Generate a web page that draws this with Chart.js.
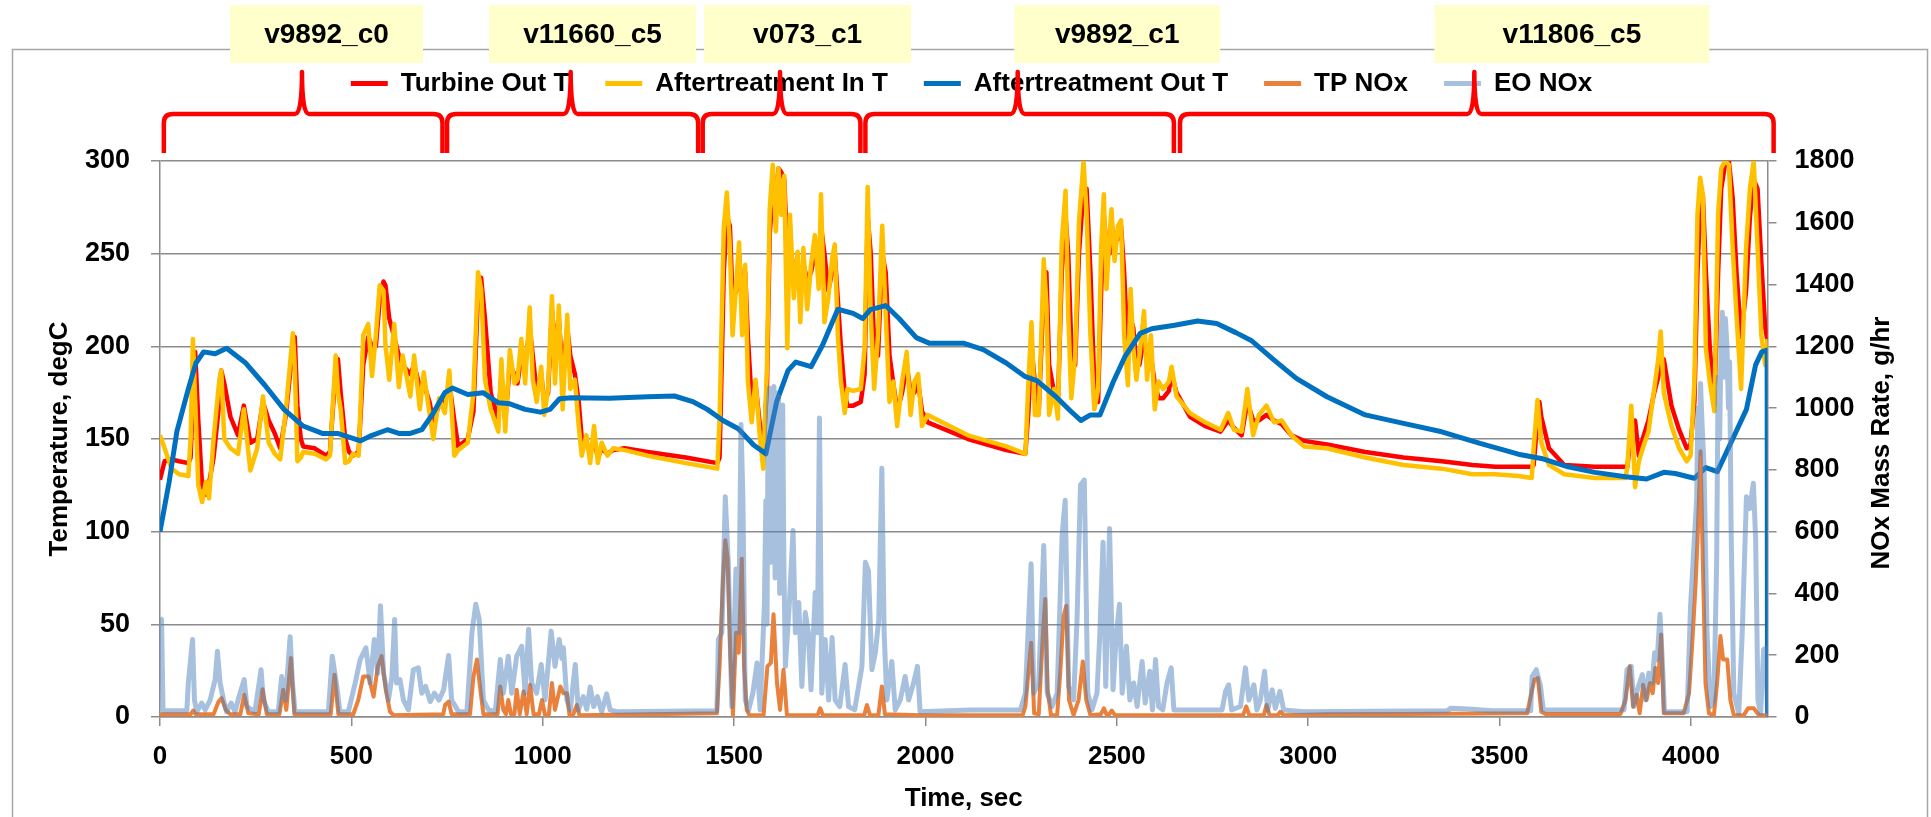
<!DOCTYPE html>
<html>
<head>
<meta charset="utf-8">
<script src="https://cdn.jsdelivr.net/npm/chart.js@4.4.1/dist/chart.umd.min.js"></script>
<style>
    html, body { margin: 0; padding: 0; background: #fff; }
    #chartBox { position: relative; width: 1931px; height: 817px; }
</style>
</head>
<body>
<div id="chartBox"><canvas id="noxChart"></canvas></div>
<script>
// temperatures (degC)
const tempTime = [0, 12, 30, 50, 74, 80, 86, 92, 100, 110, 120, 128, 140, 155, 160, 168, 184, 204, 219, 236, 254, 269, 284, 300, 314, 329, 347, 352, 359, 368, 374, 404, 434, 444, 459, 465, 472, 484, 494, 504, 519, 531, 544, 554, 564, 574, 584, 589, 599, 612, 624, 634, 654, 664, 679, 689, 704, 714, 729, 744, 756, 769, 779, 804, 819, 831, 839, 849, 864, 884, 892, 902, 914, 926, 934, 944, 954, 966, 974, 984, 996, 1004, 1014, 1024, 1032, 1042, 1052, 1064, 1072, 1084, 1094, 1102, 1114, 1124, 1134, 1144, 1154, 1169, 1184, 1214, 1274, 1374, 1456, 1462, 1466, 1473, 1481, 1489, 1496, 1506, 1513, 1521, 1529, 1536, 1546, 1556, 1566, 1576, 1586, 1593, 1601, 1609, 1616, 1623, 1631, 1639, 1646, 1656, 1666, 1673, 1681, 1691, 1701, 1711, 1721, 1727, 1736, 1746, 1756, 1763, 1771, 1779, 1789, 1796, 1811, 1831, 1841, 1849, 1857, 1866, 1876, 1887, 1896, 1906, 1916, 1926, 1939, 1951, 1961, 1971, 1981, 1991, 2006, 2111, 2211, 2261, 2269, 2277, 2286, 2296, 2309, 2316, 2323, 2336, 2346, 2356, 2366, 2373, 2381, 2391, 2401, 2413, 2421, 2431, 2441, 2451, 2459, 2466, 2473, 2481, 2486, 2494, 2503, 2511, 2519, 2529, 2536, 2543, 2551, 2559, 2571, 2579, 2589, 2599, 2609, 2621, 2636, 2643, 2656, 2691, 2731, 2771, 2791, 2806, 2826, 2841, 2856, 2871, 2891, 2911, 2931, 2956, 2989, 3049, 3149, 3249, 3349, 3429, 3489, 3549, 3584, 3589, 3599, 3604, 3609, 3629, 3669, 3749, 3829, 3834, 3844, 3854, 3864, 3874, 3889, 3904, 3914, 3921, 3929, 3949, 3969, 3989, 3999, 4009, 4017, 4024, 4031, 4039, 4049, 4061, 4071, 4079, 4089, 4099, 4109, 4119, 4131, 4144, 4154, 4164, 4174, 4184, 4194, 4200]
const turbineOutT = [128, 138, 139, 138, 137, 140, 175, 197, 160, 125, 120, 126, 140, 170, 187, 180, 162, 152, 168, 148, 150, 170, 160, 153, 145, 163, 200, 205, 168, 150, 146, 145, 141, 143, 188, 193, 175, 150, 143, 141, 143, 190, 205, 200, 200, 225, 235, 233, 215, 205, 195, 190, 185, 190, 178, 180, 170, 160, 168, 170, 180, 160, 146, 150, 165, 230, 237, 215, 175, 160, 185, 160, 190, 185, 180, 195, 190, 210, 195, 175, 185, 170, 175, 220, 200, 215, 185, 210, 195, 185, 170, 150, 148, 142, 150, 140, 145, 142, 144, 145, 143, 140, 137, 140, 175, 240, 270, 265, 225, 230, 250, 225, 240, 205, 170, 180, 160, 140, 180, 260, 285, 280, 296, 294, 290, 250, 255, 240, 245, 230, 245, 235, 240, 250, 245, 265, 250, 230, 240, 250, 225, 200, 175, 168, 168, 170, 185, 270, 250, 200, 195, 250, 240, 195, 180, 165, 175, 190, 175, 175, 180, 165, 159, 150, 144, 142, 165, 200, 180, 165, 230, 240, 190, 175, 168, 240, 270, 250, 200, 190, 250, 285, 285, 240, 180, 170, 230, 270, 255, 250, 265, 260, 258, 265, 240, 195, 215, 210, 190, 190, 205, 195, 195, 180, 172, 172, 176, 185, 175, 162, 157, 154, 160, 156, 152, 170, 160, 160, 163, 160, 158, 152, 149, 147, 143, 140, 138, 136, 135, 135, 135, 136, 160, 170, 162, 145, 136, 135, 135, 135, 155, 160, 141, 150, 160, 175, 183, 190, 193, 168, 155, 145, 147, 170, 240, 275, 282, 240, 200, 168, 240, 285, 298, 300, 280, 240, 205, 230, 270, 290, 285, 245, 210, 203]
const aftertreatInT = [152, 145, 134, 131, 130, 150, 204, 170, 125, 116, 127, 118, 150, 182, 187, 150, 145, 142, 166, 133, 145, 173, 148, 142, 139, 166, 207, 190, 138, 140, 143, 142, 139, 141, 195, 175, 166, 137, 138, 142, 141, 206, 212, 184, 206, 233, 230, 201, 182, 212, 178, 195, 173, 195, 166, 186, 164, 150, 172, 164, 187, 141, 144, 148, 175, 240, 231, 182, 166, 154, 193, 154, 198, 180, 182, 204, 180, 221, 182, 170, 189, 163, 177, 227, 180, 222, 166, 217, 177, 182, 157, 141, 152, 137, 157, 137, 148, 141, 145, 144, 141, 137, 134, 160, 199, 264, 283, 253, 206, 235, 256, 206, 244, 181, 159, 182, 154, 134, 190, 274, 298, 262, 296, 271, 292, 199, 271, 226, 251, 213, 253, 220, 244, 260, 231, 282, 213, 226, 247, 255, 206, 181, 164, 177, 176, 177, 199, 286, 217, 177, 206, 265, 217, 170, 181, 157, 181, 197, 163, 181, 185, 157, 163, 152, 146, 142, 181, 213, 163, 163, 247, 222, 163, 177, 161, 256, 284, 217, 172, 195, 267, 300, 271, 206, 166, 177, 253, 282, 231, 260, 274, 246, 265, 268, 206, 179, 231, 199, 182, 195, 219, 182, 206, 166, 181, 177, 181, 189, 173, 164, 159, 155, 164, 155, 154, 177, 152, 163, 168, 159, 160, 152, 146, 145, 140, 136, 134, 131, 131, 130, 129, 145, 171, 160, 148, 136, 131, 129, 129, 135, 168, 124, 138, 145, 154, 177, 192, 208, 175, 157, 145, 138, 141, 181, 271, 291, 282, 199, 181, 165, 271, 296, 300, 298, 253, 217, 177, 253, 285, 300, 253, 206, 190, 204]

const outTime = [0, 24, 44, 74, 94, 114, 144, 174, 224, 274, 324, 374, 424, 464, 494, 524, 554, 594, 624, 654, 684, 714, 744, 764, 804, 844, 884, 914, 954, 994, 1019, 1044, 1074, 1174, 1274, 1344, 1394, 1430, 1471, 1511, 1551, 1583, 1611, 1641, 1661, 1701, 1731, 1771, 1811, 1836, 1856, 1896, 1931, 1976, 2011, 2101, 2151, 2211, 2261, 2291, 2341, 2381, 2406, 2431, 2456, 2491, 2521, 2561, 2591, 2651, 2711, 2761, 2811, 2851, 2911, 2969, 3049, 3149, 3249, 3349, 3449, 3549, 3609, 3679, 3749, 3829, 3884, 3929, 3959, 4009, 4039, 4069, 4109, 4145, 4169, 4185, 4199, 4200]
const aftertreatOutT = [100, 127, 154, 177, 191, 197, 196, 199, 191, 179, 166, 157, 153, 153, 151, 149, 152, 155, 153, 153, 155, 164, 175, 177.5, 174, 175, 169.5, 169, 166, 164.5, 166, 171.7, 172.3, 172, 172.8, 173.2, 170, 166, 160, 155.5, 146.8, 142, 170, 187, 191.5, 189, 200.6, 220, 217.8, 215, 219.8, 222, 215, 204.7, 201.6, 201.6, 198.2, 191, 183.6, 181.5, 172.8, 164.7, 160, 163, 163, 181, 194.4, 207, 209.5, 211.4, 213.7, 212.3, 207.4, 203.2, 192.6, 182.7, 172.8, 163, 158.4, 153.9, 147.6, 141.8, 139.5, 135, 132, 129.6, 128.4, 132, 131.4, 128.8, 134.6, 132.4, 150, 166, 190, 197, 198, 0]

// NOx mass rate (g/hr)
const tpTime = [0, 80, 87, 93, 140, 153, 161, 172, 183, 210, 220, 231, 258, 268, 279, 312, 322, 330, 342, 351, 446, 456, 466, 505, 518, 531, 545, 558, 569, 579, 590, 601, 610, 740, 745, 754, 762, 810, 819, 828, 836, 845, 882, 889, 897, 904, 910, 917, 926, 932, 940, 950, 958, 967, 976, 990, 998, 1006, 1016, 1024, 1032, 1046, 1054, 1063, 1070, 1080, 1089, 1096, 1455, 1462, 1471, 1477, 1483, 1490, 1497, 1505, 1512, 1520, 1526, 1533, 1540, 1577, 1587, 1596, 1603, 1612, 1620, 1629, 1638, 1718, 1725, 1732, 1840, 1847, 1855, 1877, 1886, 1894, 1986, 2254, 2261, 2276, 2284, 2296, 2307, 2313, 2319, 2328, 2344, 2352, 2361, 2368, 2375, 2387, 2400, 2411, 2420, 2431, 2458, 2466, 2474, 2480, 2487, 2495, 2830, 2838, 2846, 2884, 2891, 2899, 2920, 2927, 2936, 3049, 3250, 3572, 3583, 3591, 3600, 3609, 3620, 3816, 3829, 3840, 3849, 3858, 3866, 3875, 3884, 3893, 3900, 3907, 3914, 3922, 3929, 3981, 3995, 4003, 4012, 4018, 4025, 4032, 4038, 4047, 4060, 4069, 4077, 4084, 4095, 4103, 4112, 4138, 4149, 4164, 4178, 4200]
const tpNox = [9, 9, 21, 9, 9, 50, 61, 23, 9, 9, 72, 12, 9, 90, 9, 9, 88, 23, 191, 9, 9, 137, 9, 9, 55, 131, 131, 66, 164, 197, 88, 17, 6, 9, 39, 50, 9, 9, 131, 186, 99, 9, 9, 99, 23, 9, 55, 9, 9, 88, 9, 83, 9, 104, 9, 9, 55, 6, 9, 110, 23, 99, 77, 77, 6, 9, 39, 6, 12, 164, 447, 572, 512, 208, 6, 273, 208, 512, 164, 23, 6, 6, 164, 175, 333, 110, 23, 153, 6, 6, 28, 6, 6, 39, 6, 6, 99, 9, 6, 6, 34, 240, 12, 9, 273, 382, 88, 6, 6, 142, 327, 360, 55, 6, 55, 180, 55, 6, 9, 28, 6, 9, 21, 6, 6, 34, 6, 6, 39, 6, 6, 17, 6, 9, 10, 12, 77, 121, 126, 17, 10, 10, 55, 164, 34, 72, 12, 104, 55, 110, 77, 159, 110, 267, 12, 12, 77, 229, 425, 599, 860, 447, 110, 12, 6, 121, 262, 186, 186, 55, 6, 6, 28, 28, 6, 6]
const eoTime = [0, 4, 8, 70, 74, 85, 90, 96, 109, 118, 131, 144, 150, 157, 166, 174, 186, 196, 209, 220, 227, 248, 264, 270, 283, 309, 318, 328, 340, 346, 353, 440, 450, 462, 470, 492, 510, 523, 538, 549, 560, 569, 576, 584, 597, 606, 613, 618, 627, 636, 649, 662, 675, 684, 694, 706, 717, 729, 741, 754, 762, 780, 802, 815, 825, 834, 845, 858, 876, 889, 897, 910, 919, 932, 945, 954, 963, 971, 984, 996, 1006, 1022, 1032, 1043, 1050, 1054, 1063, 1072, 1085, 1093, 1106, 1115, 1124, 1133, 1143, 1154, 1167, 1176, 1194, 1455, 1459, 1468, 1477, 1485, 1494, 1505, 1512, 1518, 1523, 1529, 1538, 1549, 1560, 1568, 1579, 1583, 1586, 1589, 1592, 1595, 1598, 1601, 1604, 1607, 1610, 1613, 1616, 1619, 1622, 1625, 1627, 1630, 1634, 1645, 1654, 1660, 1669, 1677, 1686, 1694, 1701, 1712, 1718, 1723, 1729, 1738, 1747, 1756, 1764, 1776, 1790, 1799, 1815, 1834, 1843, 1851, 1860, 1869, 1878, 1886, 1892, 1899, 1912, 1921, 1934, 1947, 1956, 1969, 1979, 1986, 2117, 2248, 2261, 2276, 2283, 2296, 2309, 2318, 2331, 2344, 2357, 2365, 2374, 2387, 2396, 2405, 2415, 2424, 2435, 2448, 2455, 2464, 2471, 2481, 2490, 2499, 2507, 2514, 2525, 2534, 2544, 2553, 2566, 2574, 2586, 2593, 2601, 2609, 2620, 2631, 2642, 2649, 2775, 2784, 2792, 2800, 2823, 2836, 2845, 2858, 2866, 2875, 2886, 2894, 2906, 2914, 2926, 2936, 2988, 3363, 3372, 3420, 3480, 3581, 3585, 3596, 3607, 3614, 3825, 3833, 3844, 3851, 3860, 3873, 3881, 3890, 3899, 3905, 3912, 3919, 3925, 3931, 3990, 3999, 4008, 4015, 4018, 4021, 4025, 4029, 4034, 4042, 4051, 4060, 4067, 4071, 4075, 4079, 4082, 4086, 4090, 4094, 4098, 4101, 4105, 4112, 4125, 4134, 4145, 4154, 4163, 4169, 4175, 4182, 4190, 4197, 4200]
const eoNox = [320, 316, 20, 20, 110, 251, 55, 17, 45, 23, 55, 121, 213, 110, 55, 17, 45, 17, 77, 121, 34, 17, 153, 55, 17, 17, 131, 55, 260, 110, 17, 17, 197, 99, 17, 17, 110, 186, 224, 110, 251, 142, 360, 142, 55, 131, 316, 110, 121, 55, 23, 153, 159, 77, 99, 50, 77, 55, 88, 199, 55, 17, 17, 273, 365, 316, 55, 23, 17, 186, 77, 197, 77, 197, 229, 77, 284, 110, 77, 170, 55, 278, 164, 251, 190, 224, 55, 23, 170, 23, 66, 25, 97, 34, 66, 17, 75, 23, 17, 20, 251, 273, 713, 490, 34, 479, 273, 947, 708, 55, 23, 77, 175, 23, 360, 700, 300, 1000, 1065, 500, 980, 600, 1070, 450, 1050, 700, 1040, 400, 950, 600, 1010, 500, 164, 382, 604, 273, 371, 99, 338, 273, 88, 403, 273, 968, 77, 251, 55, 257, 55, 34, 170, 34, 23, 164, 501, 474, 153, 208, 316, 805, 273, 55, 180, 23, 55, 131, 55, 110, 164, 17, 23, 23, 77, 496, 77, 110, 555, 77, 34, 77, 588, 702, 99, 55, 316, 751, 767, 77, 23, 77, 251, 566, 99, 610, 88, 273, 365, 77, 229, 55, 110, 34, 180, 45, 148, 23, 186, 34, 23, 110, 159, 23, 23, 83, 104, 23, 34, 159, 55, 104, 23, 55, 148, 23, 88, 28, 83, 23, 17, 20, 28, 26, 20, 20, 131, 153, 99, 23, 23, 153, 164, 34, 88, 137, 55, 142, 110, 208, 186, 333, 186, 17, 17, 360, 555, 708, 1000, 850, 1080, 950, 816, 273, 34, 55, 490, 1100, 900, 1250, 1310, 1100, 1290, 1200, 1000, 1150, 599, 77, 12, 273, 713, 675, 757, 577, 55, 12, 218, 224, 0]

const timeTicks = [0, 500, 1000, 1500, 2000, 2500, 3000, 3500, 4000]

// cycle segments above the plot (seconds)
const cycleNames = ['v9892_c0', 'v11660_c5', 'v073_c1', 'v9892_c1', 'v11806_c5']
const cycleLabelAt = [435, 1130, 1692, 2501, 3689]
const braceStart = [10, 750, 1418, 1843, 2665]
const braceTip = [371, 1073, 1620, 2241, 3434]
const braceEnd = [738, 1406, 1830, 2649, 4216]

const fontFamily = "'Liberation Sans', Arial, sans-serif"
const gridGray = '#8c8c8c'
const labelBoxWidth = [193, 207, 207, 206, 275]

function toPoints(times, values) {
    return times.map((t, i) => ({ x: t, y: values[i] }))
}

function drawBrace(ctx, x1, xm, x2, top) {
    const yBar = top - 47
    const yEnd = top - 8
    const yTip = top - 89
    const r = 9

    ctx.beginPath()
    ctx.moveTo(x1, yEnd)
    ctx.lineTo(x1, yBar + r)
    ctx.quadraticCurveTo(x1, yBar, x1 + r, yBar)
    ctx.lineTo(xm - 7, yBar)
    ctx.quadraticCurveTo(xm, yBar, xm, yTip)
    ctx.quadraticCurveTo(xm, yBar, xm + 7, yBar)
    ctx.lineTo(x2 - r, yBar)
    ctx.quadraticCurveTo(x2, yBar, x2, yBar + r)
    ctx.lineTo(x2, yEnd)
    ctx.stroke()
}

const cycleMarks = {
    id: 'cycleMarks',
    beforeDraw(chart) {
        const ctx = chart.ctx
        ctx.save()
        ctx.fillStyle = '#fff'
        ctx.fillRect(0, 0, chart.width, chart.height)
        ctx.strokeStyle = '#a6a6a6'
        ctx.lineWidth = 1.5
        ctx.strokeRect(12.5, 49.5, 1915, 820)
        ctx.restore()
    },
    afterDraw(chart) {
        const ctx = chart.ctx
        const x = chart.scales.x
        const top = chart.chartArea.top

        ctx.save()
        ctx.strokeStyle = '#ff0000'
        ctx.lineWidth = 4.5
        ctx.lineJoin = 'round'
        for (let i = 0; i < braceStart.length; i++) {
            drawBrace(ctx, x.getPixelForValue(braceStart[i]), x.getPixelForValue(braceTip[i]), x.getPixelForValue(braceEnd[i]), top)
        }

        ctx.font = 'bold 28px ' + fontFamily
        ctx.textAlign = 'center'
        ctx.textBaseline = 'middle'
        for (let i = 0; i < cycleNames.length; i++) {
            const cx = x.getPixelForValue(cycleLabelAt[i])
            const w = labelBoxWidth[i]
            ctx.fillStyle = '#ffffcc'
            ctx.fillRect(cx - w / 2, 5, w, 58)
            ctx.fillStyle = '#000'
            ctx.fillText(cycleNames[i], cx, 35)
        }

        // right axis title reads bottom to top, like the left one
        const y2 = chart.scales.y2
        ctx.translate(y2.right - 49, (chart.chartArea.top + chart.chartArea.bottom) / 2 + 4)
        ctx.rotate(-Math.PI / 2)
        ctx.font = 'bold 26px ' + fontFamily
        ctx.fillText('NOx Mass Rate, g/hr', 0, 0)
        ctx.restore()
    }
}

const legendGap = {
    id: 'legendGap',
    beforeInit(chart) {
        const fit = chart.legend.fit
        chart.legend.fit = function () {
            fit.bind(chart.legend)()
            this.height += 54.5
        }
    }
}

const lineStyle = { pointRadius: 0, tension: 0, fill: false, borderJoinStyle: 'round' }

const datasets = [
    { label: 'Turbine Out T', data: toPoints(tempTime, turbineOutT), borderColor: '#ff0000', borderWidth: 4.5, yAxisID: 'y', order: 5 },
    { label: 'Aftertreatment In T', data: toPoints(tempTime, aftertreatInT), borderColor: '#ffc000', borderWidth: 4.5, yAxisID: 'y', order: 4 },
    { label: 'Aftertreatment Out T', data: toPoints(outTime, aftertreatOutT), borderColor: '#0070c0', borderWidth: 5, yAxisID: 'y', order: 3 },
    { label: 'TP NOx', data: toPoints(tpTime, tpNox), borderColor: '#e9803c', borderWidth: 4, yAxisID: 'y2', order: 2 },
    { label: 'EO NOx', data: toPoints(eoTime, eoNox), borderColor: 'rgba(79,129,189,0.5)', borderWidth: 5, yAxisID: 'y2', order: 1 }
].map(d => Object.assign({}, lineStyle, d, { backgroundColor: d.borderColor }))

const tickFont = { family: fontFamily, size: 27, weight: 'bold' }
const titleFont = { family: fontFamily, size: 26, weight: 'bold' }

const config = {
    type: 'line',
    data: { datasets: datasets },
    options: {
        responsive: true,
        maintainAspectRatio: false,
        animation: false,
        events: [],
        layout: { padding: { left: 12, right: 0, top: 34.5, bottom: 0 } },
        plugins: {
            tooltip: { enabled: false },
            legend: {
                position: 'top',
                labels: {
                    font: { family: fontFamily, size: 26, weight: 'bold' },
                    color: '#000',
                    boxWidth: 37,
                    boxHeight: 5,
                    padding: 36,
                    sort: (a, b) => a.datasetIndex - b.datasetIndex,
                    generateLabels(chart) {
                        const items = Chart.defaults.plugins.legend.labels.generateLabels(chart)
                        items.forEach(item => {
                            item.fillStyle = item.strokeStyle
                            item.lineWidth = 0
                        })
                        return items
                    }
                }
            }
        },
        scales: {
            x: {
                type: 'linear',
                min: 0,
                max: 4200,
                afterFit: (scale) => { scale.height = 100 },
                afterBuildTicks: (scale) => { scale.ticks = timeTicks.map(v => ({ value: v })) },
                ticks: {
                    maxRotation: 0,
                    autoSkip: false,
                    padding: 15,
                    color: '#000',
                    font: { family: fontFamily, size: 26, weight: 'bold' },
                    callback: v => String(v)
                },
                grid: { drawOnChartArea: false, drawTicks: true, tickLength: 9, color: gridGray, lineWidth: 1.5 },
                border: { display: true, color: gridGray, width: 1.5 },
                title: { display: true, text: 'Time, sec', color: '#000', font: titleFont, padding: { top: 0, bottom: 3 } }
            },
            y: {
                position: 'left',
                min: 0,
                max: 300,
                afterFit: (scale) => { scale.width = 148 },
                ticks: { stepSize: 50, padding: 21, color: '#000', font: tickFont },
                grid: { color: gridGray, lineWidth: 1.5, drawTicks: true, tickLength: 9, tickColor: gridGray },
                border: { display: true, color: gridGray, width: 1.5 },
                title: { display: true, text: 'Temperature, degC', color: '#000', font: titleFont, padding: { top: 32, bottom: 0 } }
            },
            y2: {
                position: 'right',
                min: 0,
                max: 1800,
                afterFit: (scale) => { scale.width = 163.5 },
                ticks: { stepSize: 200, padding: 18, color: '#000', font: tickFont, callback: v => String(v) },
                grid: { drawOnChartArea: false, drawTicks: true, tickLength: 9, color: gridGray, lineWidth: 1.5 },
                border: { display: true, color: gridGray, width: 1.5 }
            }
        }
    },
    plugins: [legendGap, cycleMarks]
}

new Chart(document.getElementById('noxChart'), config)
</script>
</body>
</html>
